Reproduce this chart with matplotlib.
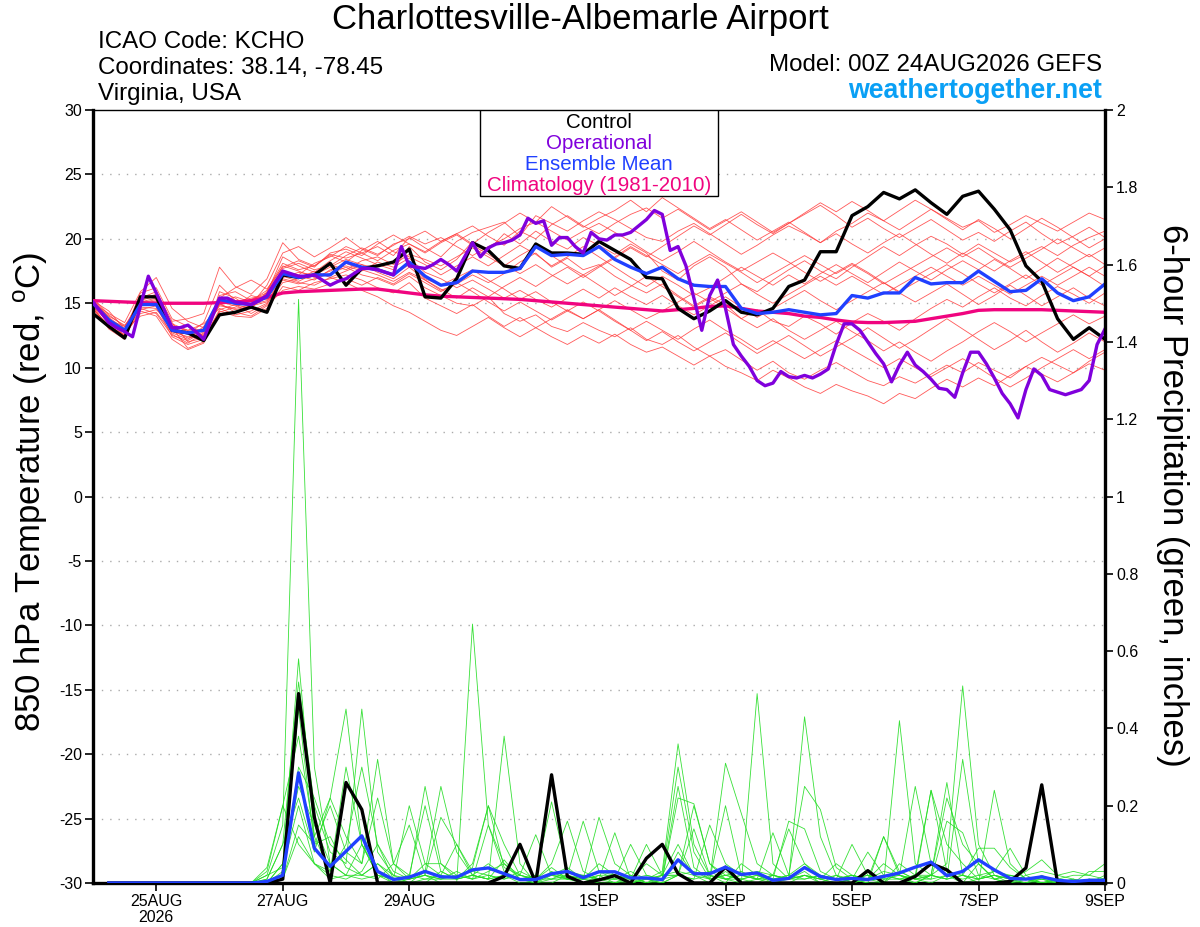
import numpy as np
import matplotlib

matplotlib.use("Agg")
import matplotlib.pyplot as plt
from matplotlib.patches import Rectangle

plt.rcParams["font.family"] = ["Liberation Sans", "DejaVu Sans"]
plt.rcParams["mathtext.fontset"] = "custom"
plt.rcParams["mathtext.rm"] = "Liberation Sans"

# ---- data: 850 hPa temperature (deg C), 6-hourly from 00Z 24AUG2026 ----
control_t = [
    14.2, 13.2, 12.3, 15.5,  15.5, 12.9, 12.7, 12.1,  14.1, 14.3, 14.7, 14.3,
    17.2, 17.0, 17.2, 18.1,  16.4, 17.7, 17.9, 18.2,  19.2, 15.5, 15.4, 16.9,
    19.7, 19.1, 17.9, 17.7,  19.6, 18.9, 18.9, 18.8,  19.8, 19.1, 18.4, 17.0,
    16.9, 14.6, 13.8, 14.4,  15.2, 14.3, 14.1, 14.6,  16.3, 16.8, 19.0, 19.0,
    21.8, 22.5, 23.6, 23.1,  23.8, 22.8, 21.9, 23.3,  23.7, 22.3, 20.7, 17.9,
    16.7, 13.8, 12.2, 13.1,  12.2,
]
mean_t = [
    15.0, 13.7, 12.9, 14.9,  14.9, 12.9, 12.7, 12.9,  15.3, 15.0, 14.9, 15.5,
    17.3, 17.0, 17.2, 17.2,  18.2, 17.8, 17.6, 17.2,  18.2, 17.1, 16.4, 16.6,
    17.5, 17.4, 17.4, 17.7,  19.4, 18.7, 18.8, 18.7,  19.4, 18.4, 17.8, 17.3,
    17.8, 16.9, 16.4, 16.3,  16.3, 14.6, 14.2, 14.3,  14.5, 14.3, 14.1, 14.2,
    15.6, 15.4, 15.8, 15.8,  17.0, 16.5, 16.6, 16.6,  17.5, 16.7, 15.9, 16.0,
    16.9, 15.8, 15.2, 15.5,  16.5,
]
clim_t = [
    15.2, 15.15, 15.1, 15.05,  15.0, 15.0, 15.0, 15.0,  15.05, 15.1, 15.2, 15.45,
    15.8, 15.9, 15.95, 16.0,  16.05, 16.1, 16.1, 15.95,  15.8, 15.65, 15.55, 15.5,
    15.45, 15.4, 15.35, 15.3,  15.2, 15.1, 15.0, 14.9,  14.8, 14.7, 14.6, 14.5,
    14.4, 14.5, 14.6, 14.75,  14.8, 14.6, 14.4, 14.3,  14.2, 14.0, 13.9, 13.7,
    13.55, 13.5, 13.5, 13.55,  13.6, 13.8, 14.0, 14.2,  14.45, 14.5, 14.5, 14.5,
    14.5, 14.45, 14.4, 14.35,  14.3,
]
# operational run is 3-hourly
oper_t = [
    15.1, 14.3, 13.5, 13.1, 12.8, 12.4, 14.8, 17.1,  15.8, 14.5, 13.1, 13.1, 13.3, 12.8, 12.2, 13.8,
    15.4, 15.4, 15.1, 15.0, 14.9, 15.2, 15.6, 16.6,  17.5, 17.3, 17.1, 17.1, 17.2, 16.8, 16.4, 16.7,
    16.9, 17.3, 17.7, 17.7, 17.6, 17.4, 17.2, 19.4,  17.9, 17.8, 17.7, 18.0, 18.4, 18.0, 17.5, 18.6,
    19.7, 18.6, 19.3, 19.6, 19.7, 19.9, 20.3, 21.6,  21.2, 21.4, 19.5, 20.1, 20.1, 19.4, 18.9, 20.5,
    20.0, 19.9, 20.3, 20.3, 20.5, 21.0, 21.5, 22.2,  21.9, 19.1, 19.4, 17.9, 15.4, 12.9, 15.6, 16.8,
    14.6, 11.8, 10.9, 10.1, 9.0, 8.6, 8.8, 9.7,  9.3, 9.2, 9.4, 9.2, 9.5, 9.9, 11.8, 13.4,
    13.4, 12.9, 12.0, 11.1, 10.3, 8.9, 10.2, 11.2,  10.2, 9.7, 9.1, 8.4, 8.3, 7.7, 9.6, 11.2,
    11.2, 10.3, 9.2, 8.0, 7.2, 6.1, 8.3, 9.9,  9.4, 8.3, 8.1, 7.9, 8.1, 8.3, 9.0, 11.8,
    13.0,
]
members_t = [
    [14.9, 13.5, 12.8, 15.8, 16.2, 13.8, 13.2, 12.4, 15.6, 15.9, 15.2, 16.0, 18.1, 17.6, 17.9, 18.8,
     18.5, 18.9, 19.4, 18.7, 20.1, 19.3, 18.6, 19.8, 20.5, 20.9, 21.3, 20.2, 21.8, 21.2, 20.6, 21.4,
     22.1, 21.5, 20.8, 20.1, 19.8, 20.6, 21.2, 20.4, 19.6, 18.8, 19.5, 20.3, 21.0, 20.4, 19.7, 20.6,
     21.2, 22.0, 21.4, 20.7, 21.5, 22.3, 21.6, 20.9, 21.4, 20.5, 21.1, 21.8, 21.2, 20.6, 21.3, 22.0, 21.5],
    [15.1, 14.0, 13.3, 14.6, 14.2, 12.5, 12.1, 12.8, 14.8, 14.6, 14.9, 15.2, 16.8, 16.5, 16.9, 17.3,
     17.8, 17.2, 16.9, 16.4, 17.1, 16.2, 15.6, 15.0, 14.8, 15.5, 14.2, 13.6, 14.1, 13.2, 12.8, 13.5,
     12.9, 12.4, 13.1, 12.2, 11.8, 12.5, 11.6, 10.9, 11.4, 10.6, 9.8, 10.5, 9.6, 9.1, 9.8, 10.4,
     9.7, 9.0, 8.6, 9.3, 8.8, 9.5, 10.2, 9.6, 10.4, 9.8, 9.2, 10.1, 10.8, 10.2, 9.6, 10.5, 11.2],
    [15.3, 13.9, 12.4, 15.2, 15.6, 13.1, 11.5, 12.0, 15.9, 15.4, 14.6, 15.8, 18.6, 17.9, 17.4, 18.3,
     19.0, 18.5, 18.0, 17.6, 19.4, 18.2, 17.6, 18.4, 19.8, 19.1, 20.4, 19.6, 20.6, 19.8, 19.2, 20.1,
     19.5, 18.8, 19.6, 18.9, 17.5, 16.8, 17.9, 18.6, 17.8, 16.5, 15.9, 16.8, 17.6, 18.3, 17.5, 16.9,
     17.8, 18.6, 19.4, 18.7, 19.5, 20.2, 19.6, 18.8, 19.6, 18.9, 18.2, 18.8, 19.4, 18.7, 19.5, 20.1, 20.6],
    [14.6, 13.1, 12.6, 14.2, 14.5, 13.4, 12.9, 13.4, 14.6, 14.1, 14.4, 15.0, 16.6, 16.9, 17.5, 17.0,
     17.5, 18.0, 17.4, 16.9, 17.8, 16.8, 16.0, 16.5, 17.2, 16.6, 17.3, 18.2, 18.9, 17.8, 18.5, 17.6,
     18.0, 17.1, 16.4, 15.8, 16.5, 15.6, 14.8, 15.5, 14.9, 13.8, 14.5, 13.6, 13.2, 14.0, 13.4, 12.6,
     13.5, 14.2, 13.6, 12.9, 13.8, 14.6, 15.3, 14.7, 15.5, 16.2, 15.4, 14.8, 15.6, 16.3, 15.7, 15.0, 15.8],
    [15.0, 14.2, 13.5, 15.9, 17.0, 14.6, 13.6, 13.1, 15.4, 16.2, 16.8, 16.1, 17.8, 18.3, 17.8, 18.9,
     19.2, 18.7, 19.6, 20.3, 19.6, 19.0, 19.8, 20.4, 21.0, 20.2, 19.5, 20.6, 20.0, 21.1, 21.8, 21.0,
     20.4, 21.2, 21.9, 22.4, 21.6, 22.3, 21.5, 20.7, 21.4, 22.1, 21.3, 20.5, 21.2, 21.9, 22.6, 21.8,
     20.9, 21.6, 20.8, 20.1, 20.8, 21.5, 20.7, 19.9, 20.5, 19.8, 20.6, 21.3, 20.4, 19.6, 20.2, 20.9, 20.1],
    [14.7, 13.6, 12.9, 14.4, 14.0, 12.2, 11.4, 11.9, 14.4, 14.0, 13.9, 14.6, 16.3, 16.0, 16.6, 16.9,
     17.2, 16.8, 16.2, 15.8, 16.6, 15.4, 14.8, 14.2, 14.9, 14.0, 13.2, 13.9, 13.1, 12.4, 11.8, 12.5,
     11.9, 12.6, 11.8, 11.2, 11.6, 10.9, 10.2, 10.9, 10.1, 9.6, 9.0, 9.8, 9.2, 8.5, 8.0, 8.7,
     8.2, 7.8, 7.2, 8.0, 7.6, 8.4, 9.1, 8.5, 9.2, 8.6, 9.4, 10.1, 9.5, 8.9, 9.6, 10.3, 9.8],
    [15.2, 14.4, 13.0, 15.4, 15.9, 13.6, 13.8, 14.2, 17.8, 16.3, 15.7, 16.9, 19.7, 18.4, 17.9, 18.7,
     18.2, 19.1, 19.8, 19.0, 18.6, 18.0, 17.2, 17.9, 18.6, 17.9, 18.7, 19.5, 18.8, 17.9, 18.6, 19.4,
     18.6, 17.8, 17.0, 16.3, 17.1, 16.4, 15.6, 16.2, 17.0, 17.8, 17.1, 16.4, 17.2, 16.5, 17.3, 18.0,
     17.3, 16.6, 17.4, 18.2, 17.5, 16.8, 17.6, 18.3, 17.6, 18.4, 17.7, 16.9, 17.7, 18.5, 17.8, 17.1, 17.9],
    [14.8, 13.0, 12.2, 14.9, 15.2, 12.8, 12.4, 12.6, 15.1, 14.8, 15.6, 15.3, 17.4, 17.1, 16.8, 17.6,
     17.9, 17.5, 18.2, 17.8, 18.5, 17.4, 16.9, 16.2, 16.8, 16.1, 15.4, 16.0, 15.3, 14.7, 15.4, 16.1,
     15.4, 16.2, 15.5, 14.9, 15.6, 14.8, 14.1, 14.8, 15.5, 14.7, 13.9, 14.6, 15.3, 16.0, 15.2, 14.5,
     15.2, 15.9, 16.6, 15.8, 15.1, 15.8, 16.5, 15.7, 14.9, 15.6, 16.4, 15.6, 14.8, 15.5, 16.2, 15.4, 14.8],
    [15.4, 14.1, 13.2, 15.0, 15.3, 13.0, 12.6, 13.5, 16.4, 15.2, 14.9, 16.4, 18.9, 19.4, 18.6, 19.3,
     20.1, 19.2, 18.7, 19.6, 20.0, 20.6, 19.8, 20.4, 19.6, 20.5, 21.2, 22.0, 21.3, 22.5, 21.7, 20.9,
     21.6, 22.2, 23.0, 22.1, 23.2, 22.4, 21.6, 20.8, 21.5, 20.7, 19.9, 20.6, 21.3, 20.5, 19.7, 20.4,
     19.6, 18.9, 19.7, 20.4, 19.6, 18.8, 18.1, 18.9, 18.2, 17.5, 18.3, 19.0, 18.2, 17.4, 18.1, 18.8, 18.0],
    [15.0, 13.8, 12.7, 14.7, 14.6, 12.9, 12.3, 12.5, 15.0, 15.5, 15.1, 15.4, 17.0, 17.4, 17.2, 17.8,
     18.4, 18.0, 17.7, 17.2, 18.0, 16.9, 16.4, 17.0, 17.6, 16.8, 16.1, 15.3, 15.9, 15.1, 14.4, 13.8,
     14.5, 13.7, 12.9, 12.1, 12.8, 12.0, 11.3, 12.0, 12.7, 11.9, 11.1, 11.8, 12.5, 11.7, 10.9, 11.6,
     12.3, 13.1, 12.3, 11.5, 12.2, 13.0, 13.8, 13.0, 12.2, 11.4, 12.1, 12.9, 12.0, 11.2, 11.9, 12.7, 12.0],
    [14.5, 13.3, 12.5, 14.8, 15.0, 13.2, 12.9, 13.0, 14.9, 14.5, 14.8, 15.1, 17.1, 16.7, 17.3, 18.0,
     17.6, 18.3, 18.6, 18.0, 18.8, 18.4, 17.9, 18.6, 19.3, 18.6, 17.9, 18.7, 19.4, 18.7, 17.9, 17.2,
     17.9, 18.6, 19.4, 18.7, 18.0, 17.3, 18.1, 18.8, 18.1, 17.4, 16.6, 17.3, 18.0, 18.7, 18.0, 17.3,
     18.0, 17.3, 16.5, 17.2, 17.9, 18.6, 19.3, 18.6, 19.3, 18.5, 17.8, 18.5, 19.2, 20.0, 19.3, 18.6, 19.3],
    [14.9, 13.4, 12.3, 15.1, 15.4, 13.5, 12.0, 12.3, 15.2, 14.9, 14.2, 14.9, 16.9, 16.6, 16.4, 17.0,
     16.6, 16.0, 15.5, 14.8, 14.3, 13.6, 12.9, 12.5, 13.2, 13.9, 13.1, 12.4, 13.1, 13.8, 14.5, 13.8,
     14.5, 15.2, 14.5, 13.8, 14.4, 15.1, 15.8, 15.1, 15.8, 16.5, 15.7, 15.0, 15.7, 16.4, 17.1, 16.4,
     17.1, 16.4, 15.7, 16.4, 17.1, 17.8, 17.1, 16.4, 17.1, 16.4, 15.7, 16.4, 17.1, 16.4, 17.1, 17.8, 17.1],
    [15.1, 13.9, 13.0, 14.9, 15.1, 12.6, 11.9, 12.7, 14.9, 15.1, 15.4, 15.6, 17.5, 17.2, 18.1, 18.6,
     19.4, 18.9, 18.3, 19.1, 19.6, 18.9, 19.7, 20.3, 19.5, 18.8, 18.0, 17.3, 18.0, 17.2, 16.5, 17.2,
     16.4, 15.6, 16.3, 17.1, 16.3, 15.5, 14.7, 15.4, 14.6, 13.8, 13.1, 13.8, 12.9, 12.2, 12.9, 13.6,
     12.8, 12.1, 11.3, 12.0, 11.2, 10.5, 11.3, 12.0, 12.8, 13.5, 12.8, 12.0, 12.7, 13.4, 14.1, 13.4, 14.0],
    [14.8, 13.7, 13.2, 15.3, 15.7, 13.3, 12.8, 12.4, 14.3, 14.7, 15.3, 15.8, 17.7, 18.1, 17.6, 17.9,
     18.7, 19.3, 18.8, 19.5, 20.2, 19.6, 20.1, 19.4, 18.7, 19.4, 20.0, 20.8, 21.3, 20.6, 19.9, 20.6,
     21.2, 20.5, 19.8, 19.0, 18.3, 19.0, 19.8, 19.0, 18.2, 17.5, 18.2, 18.9, 18.2, 17.4, 16.7, 17.4,
     18.1, 17.4, 16.6, 15.9, 16.6, 17.3, 18.0, 17.3, 16.5, 15.8, 16.5, 17.2, 16.4, 17.1, 17.8, 17.1, 16.3],
    [15.2, 13.6, 12.4, 14.5, 14.8, 12.4, 11.8, 12.2, 14.5, 14.9, 14.6, 15.9, 17.9, 17.5, 17.0, 17.5,
     18.1, 17.6, 17.2, 16.7, 17.4, 16.8, 16.1, 15.4, 16.2, 15.5, 16.3, 17.0, 16.3, 17.1, 17.8, 17.0,
     17.8, 18.5, 19.3, 18.6, 19.4, 20.2, 21.0, 20.3, 21.1, 21.9, 21.1, 20.4, 21.2, 22.0, 22.8, 22.1,
     22.9, 22.2, 21.4, 22.2, 23.0, 22.3, 21.5, 20.7, 21.5, 20.8, 20.0, 20.8, 21.6, 20.9, 20.1, 19.3, 20.0],
    [14.6, 13.2, 12.9, 14.0, 14.3, 12.7, 12.2, 13.2, 15.0, 14.3, 14.0, 14.8, 16.0, 16.3, 16.1, 16.5,
     16.9, 16.4, 17.0, 16.5, 17.3, 16.6, 15.9, 16.6, 15.9, 15.1, 14.4, 15.1, 14.4, 13.7, 14.4, 15.1,
     14.4, 13.6, 12.9, 13.6, 12.9, 12.2, 13.0, 13.7, 12.9, 12.2, 11.4, 12.1, 11.4, 10.7, 11.4, 12.1,
     11.4, 10.7, 10.0, 10.7, 10.0, 9.3, 10.0, 10.7, 10.0, 9.2, 8.5, 9.2, 10.0, 10.7, 11.4, 10.7, 11.4],
]

# ---- data: 6-hour precipitation (inches), 6-hourly from 06Z 24AUG2026 ----
control_p = [
    0, 0, 0, 0,  0, 0, 0, 0,  0, 0, 0, 0.01,  0.49, 0.17, 0.0, 0.26,
    0.19, 0, 0, 0,  0, 0, 0, 0,  0, 0.017, 0.10, 0,  0.28, 0.017, 0, 0.008,
    0.019, 0, 0.064, 0.10,  0.024, 0, 0, 0.041,  0, 0, 0, 0,  0, 0, 0, 0,
    0.032, 0, 0, 0.017,  0.05, 0.034, 0, 0,  0, 0.004, 0.039, 0.254,  0, 0, 0, 0,
]
mean_p = [
    0, 0, 0, 0,  0, 0, 0, 0,  0, 0, 0.004, 0.02,  0.285, 0.09, 0.043, 0.082,
    0.122, 0.03, 0.009, 0.015,  0.03, 0.016, 0.015, 0.034,  0.039, 0.024, 0.009, 0.009,
    0.024, 0.03, 0.014, 0.029,  0.029, 0.013, 0.013, 0.009,  0.06, 0.024, 0.024, 0.041,
    0.022, 0.026, 0.007, 0.012,  0.04, 0.017, 0.009, 0.012,  0.009, 0.017, 0.026, 0.041,
    0.054, 0.019, 0.03, 0.06,  0.034, 0.012, 0.01, 0.016,  0.007, 0.004, 0.007, 0.007,
]
members_p = [
    [0, 0, 0, 0, 0, 0, 0, 0, 0, 0, 0.02, 0.15, 1.51, 0.3, 0.05, 0.02, 0.1, 0.02, 0, 0, 0, 0.03, 0.01, 0.02,
     0.05, 0.02, 0, 0, 0.03, 0.01, 0, 0.02, 0, 0, 0.01, 0, 0.08, 0.02, 0, 0.03, 0, 0.01, 0, 0,
     0.02, 0, 0, 0.01, 0, 0, 0.03, 0.01, 0, 0.02, 0, 0.05, 0.01, 0, 0, 0.02, 0, 0, 0.01, 0],
    [0, 0, 0, 0, 0, 0, 0, 0, 0, 0, 0, 0.05, 0.58, 0.12, 0.22, 0.45, 0.1, 0.03, 0, 0.01, 0.02, 0, 0, 0.67,
     0.15, 0.05, 0.01, 0, 0.02, 0.04, 0.01, 0, 0, 0.02, 0, 0, 0.02, 0.2, 0.05, 0.01, 0, 0.49, 0.05, 0.01,
     0.03, 0, 0.02, 0, 0.01, 0, 0.05, 0.02, 0.24, 0.03, 0, 0.01, 0.02, 0.01, 0, 0, 0, 0, 0, 0],
    [0, 0, 0, 0, 0, 0, 0, 0, 0, 0, 0.01, 0.1, 0.52, 0.2, 0.08, 0.05, 0.45, 0.08, 0.02, 0, 0.03, 0.25, 0.08, 0.02,
     0.01, 0.38, 0.05, 0, 0, 0.02, 0.16, 0.03, 0.02, 0, 0.01, 0.03, 0.36, 0.1, 0.02, 0, 0.05, 0.02, 0, 0.01,
     0.43, 0.12, 0.02, 0, 0.01, 0.03, 0.02, 0, 0.02, 0.05, 0.51, 0.1, 0.02, 0, 0.01, 0, 0, 0, 0.01, 0],
    [0, 0, 0, 0, 0, 0, 0, 0, 0, 0, 0, 0.03, 0.45, 0.1, 0.2, 0.08, 0.05, 0.22, 0.05, 0.02, 0.2, 0.03, 0.01, 0.05,
     0.2, 0.04, 0.02, 0.01, 0.05, 0.16, 0.03, 0.01, 0, 0.01, 0.05, 0.02, 0.3, 0.08, 0.01, 0.02, 0.03, 0.01, 0.13, 0.02,
     0.25, 0.19, 0.04, 0.01, 0, 0.12, 0.03, 0.01, 0.02, 0.26, 0.02, 0, 0.24, 0.05, 0.01, 0, 0.01, 0, 0, 0],
    [0, 0, 0, 0, 0, 0, 0, 0, 0, 0, 0.03, 0.2, 0.38, 0.12, 0.03, 0.1, 0.3, 0.1, 0.03, 0.01, 0.02, 0.17, 0.1, 0.03,
     0.02, 0.01, 0.02, 0.125, 0.02, 0.01, 0.01, 0.17, 0.05, 0.02, 0, 0.01, 0.22, 0.205, 0.05, 0.02, 0.01, 0.02, 0.01, 0.16,
     0.14, 0.03, 0.01, 0.1, 0.02, 0, 0.42, 0.05, 0.02, 0.01, 0.32, 0.05, 0.01, 0, 0.02, 0.03, 0.02, 0.01, 0, 0],
    [0, 0, 0, 0, 0, 0, 0, 0, 0, 0, 0, 0.02, 0.3, 0.22, 0.1, 0.06, 0.02, 0.05, 0.01, 0.2, 0.05, 0.02, 0.01, 0.04,
     0.2, 0.1, 0.02, 0.01, 0.01, 0.02, 0.01, 0.03, 0.01, 0.1, 0.02, 0.01, 0.02, 0.03, 0.01, 0.31, 0.18, 0.05, 0.02, 0.14,
     0.05, 0.02, 0.01, 0.02, 0.01, 0.12, 0.02, 0.25, 0.05, 0.03, 0.02, 0.01, 0.03, 0.09, 0.02, 0, 0.01, 0.02, 0.02, 0.01],
    [0, 0, 0, 0, 0, 0, 0, 0, 0, 0, 0.02, 0.04, 0.2, 0.05, 0.03, 0.3, 0.1, 0.02, 0.01, 0.01, 0.25, 0.05, 0.02, 0.01,
     0.03, 0.05, 0.02, 0.01, 0.04, 0.01, 0.02, 0.01, 0.02, 0.01, 0, 0.02, 0.1, 0.02, 0.01, 0.2, 0.02, 0.03, 0.02, 0.01,
     0.02, 0.01, 0, 0.01, 0.08, 0.02, 0.02, 0.01, 0.24, 0.1, 0.05, 0.01, 0.02, 0.01, 0.03, 0.06, 0.02, 0.03, 0.02, 0.05],
    [0, 0, 0, 0, 0, 0, 0, 0, 0, 0, 0, 0.01, 0.12, 0.05, 0.02, 0.01, 0.03, 0.1, 0.01, 0, 0.01, 0.02, 0.1, 0.02,
     0.01, 0.02, 0.01, 0.02, 0.01, 0.03, 0.02, 0.01, 0.01, 0.03, 0.01, 0, 0.02, 0.01, 0.02, 0.01, 0.01, 0, 0.02, 0.01,
     0.02, 0.01, 0, 0.01, 0.02, 0.01, 0.01, 0, 0.02, 0.22, 0.1, 0.05, 0.01, 0.02, 0.01, 0, 0.01, 0, 0.03, 0.03],
    [0, 0, 0, 0, 0, 0, 0, 0, 0, 0, 0.04, 0.2, 0.1, 0.05, 0.01, 0.02, 0.01, 0.02, 0.01, 0.02, 0.01, 0.01, 0.02, 0.01,
     0.15, 0.03, 0.01, 0, 0.01, 0.01, 0.02, 0.01, 0.01, 0, 0.01, 0.02, 0.02, 0.01, 0.15, 0.05, 0.02, 0.01, 0.01, 0.02,
     0.01, 0.02, 0.01, 0.02, 0.01, 0.02, 0.01, 0.02, 0.02, 0.01, 0.02, 0.09, 0.09, 0.04, 0.01, 0.01, 0, 0.01, 0, 0.01],
    [0, 0, 0, 0, 0, 0, 0, 0, 0, 0, 0.01, 0.1, 0.22, 0.08, 0.22, 0.12, 0.05, 0.32, 0.05, 0.01, 0.02, 0.01, 0.01, 0.02,
     0.01, 0.02, 0.01, 0.01, 0.02, 0.01, 0.01, 0.05, 0.02, 0.01, 0.02, 0.01, 0.25, 0.04, 0.01, 0.02, 0.01, 0.02, 0.01, 0.02,
     0.05, 0.01, 0.02, 0.01, 0.02, 0.01, 0.02, 0.01, 0.01, 0.02, 0.01, 0.02, 0.03, 0.02, 0.01, 0, 0, 0.01, 0, 0],
    [0, 0, 0, 0, 0, 0, 0, 0, 0, 0, 0, 0.05, 0.25, 0.15, 0.05, 0.02, 0.02, 0.05, 0.02, 0.01, 0.05, 0.05, 0.01, 0.02,
     0.01, 0.06, 0.01, 0.02, 0.21, 0.03, 0.01, 0.02, 0.02, 0.01, 0.1, 0.02, 0.02, 0.14, 0.02, 0.01, 0.02, 0.01, 0.02, 0.01,
     0.02, 0.01, 0.05, 0.02, 0.01, 0.05, 0.02, 0.01, 0.02, 0.01, 0.02, 0.01, 0.02, 0.01, 0, 0.01, 0, 0, 0.01, 0.01],
    [0, 0, 0, 0, 0, 0, 0, 0, 0, 0, 0, 0.01, 0.15, 0.1, 0.12, 0.04, 0.02, 0.01, 0.05, 0.15, 0.02, 0.01, 0.03, 0.01,
     0.02, 0.01, 0.03, 0.01, 0.02, 0.02, 0.01, 0.01, 0.13, 0.01, 0.01, 0.02, 0.03, 0.02, 0.03, 0.01, 0.02, 0.01, 0.02, 0.01,
     0.01, 0.02, 0.01, 0.02, 0.01, 0.02, 0.01, 0.02, 0.01, 0.16, 0.13, 0.02, 0.01, 0.02, 0.01, 0.01, 0.01, 0, 0, 0.02],
]

tick_hours = [24, 72, 120, 192, 240, 288, 336, 384]
tick_labels = ["25AUG\n2026", "27AUG", "29AUG", "1SEP", "3SEP", "5SEP", "7SEP", "9SEP"]

legend_entries = [
    ("Control", "#000000"),
    ("Operational", "#8000dc"),
    ("Ensemble Mean", "#2040ff"),
    ("Climatology (1981-2010)", "#f0047f"),
]

W, H = 1200, 927
fig = plt.figure(figsize=(W / 100, H / 100), dpi=100, facecolor="white")
ax = fig.add_axes([93 / W, 1 - 883 / H, 1012 / W, 773 / H])
ax2 = ax.twinx()

t6 = np.arange(len(control_t)) * 6
t3 = np.arange(len(oper_t)) * 3
tp = (np.arange(len(control_p)) + 1) * 6

# ensemble spaghetti
for m in members_t:
    ax.plot(np.arange(len(m)) * 6, m, color="#ff3b3b", lw=0.6, alpha=0.85, zorder=2)
for m in members_p:
    ax2.plot((np.arange(len(m)) + 1) * 6, m, color="#22dd22", lw=0.6, alpha=0.9, zorder=2)

ax.plot(t6, clim_t, color="#f0047f", lw=2.4, zorder=4)
ax.plot(t6, control_t, color="black", lw=2.4, zorder=5)
ax.plot(t6, mean_t, color="#2040ff", lw=2.4, zorder=6)
ax.plot(t3, oper_t, color="#8000dc", lw=2.4, zorder=7)

ax2.plot(tp, control_p, color="black", lw=2.4, zorder=5)
ax2.plot(tp, mean_p, color="#2040ff", lw=2.4, zorder=6)

ax.set_xlim(0, 384)
ax.set_ylim(-30, 30)
ax2.set_ylim(0, 2)

ax.set_yticks(np.arange(-30, 31, 5))
ax.set_yticklabels([f"{v:d}" for v in range(-30, 31, 5)])
ax2.set_yticks(np.round(np.arange(0, 2.01, 0.2), 1))
ax2.set_yticklabels([f"{v:g}" for v in np.round(np.arange(0, 2.01, 0.2), 1)])
ax.set_xticks(tick_hours)
ax.set_xticklabels(tick_labels, linespacing=1.05)

for v in range(-25, 30, 5):
    ax.axhline(v, color="#aaaaaa", lw=1.0, ls=(0, (1, 5)), zorder=1)

ax.tick_params(axis="both", direction="out", length=5.5, width=1.2, labelsize=11.5, pad=2.5)
ax2.tick_params(axis="y", direction="out", length=5.5, width=1.2, labelsize=11.5, pad=2.5)

for s in ("left", "bottom"):
    ax.spines[s].set_linewidth(2.4)
ax.spines["top"].set_linewidth(1.0)
ax.spines["right"].set_visible(False)
for s in ("left", "bottom", "top"):
    ax2.spines[s].set_visible(False)
ax2.spines["right"].set_linewidth(2.4)

# legend box
lx0, lx1 = (480 - 93) / 1012, (718 - 93) / 1012
ly0 = (883 - 196) / 773
ax2.add_patch(Rectangle((lx0, ly0), lx1 - lx0, 1 - ly0, transform=ax2.transAxes,
                        facecolor="white", edgecolor="black", lw=1.0, zorder=20))
for i, (name, col) in enumerate(legend_entries):
    y = 1 - (12 + i * 21.3) / 773
    ax2.text((lx0 + lx1) / 2, y, name, color=col, fontsize=14.8, ha="center", va="center",
             transform=ax2.transAxes, zorder=21)

# header texts
fig.text(580 / W, 1 - 20 / H, "Charlottesville-Albemarle Airport", fontsize=25,
         ha="center", va="center")
fig.text(98 / W, 1 - 42 / H, "ICAO Code: KCHO", fontsize=17.4, ha="left", va="center")
fig.text(98 / W, 1 - 68 / H, "Coordinates: 38.14, -78.45", fontsize=17.4, ha="left", va="center")
fig.text(98 / W, 1 - 94 / H, "Virginia, USA", fontsize=17.4, ha="left", va="center")
fig.text(1102 / W, 1 - 65 / H, "Model: 00Z 24AUG2026 GEFS", fontsize=17.4, ha="right", va="center")
fig.text(1102 / W, 1 - 91 / H, "weathertogether.net", fontsize=19.3, fontweight="bold",
         color="#0aa0f5", ha="right", va="center")

fig.text(31 / W, 1 - 492 / H, r"850 hPa Temperature (red, $^\mathrm{o}$C)", fontsize=25,
         rotation=90, ha="center", va="center")
fig.text(1172 / W, 1 - 495 / H, "6-hour Precipitation (green, inches)", fontsize=25,
         rotation=-90, ha="center", va="center")

fig.savefig("out.png", dpi=100, facecolor="white")
